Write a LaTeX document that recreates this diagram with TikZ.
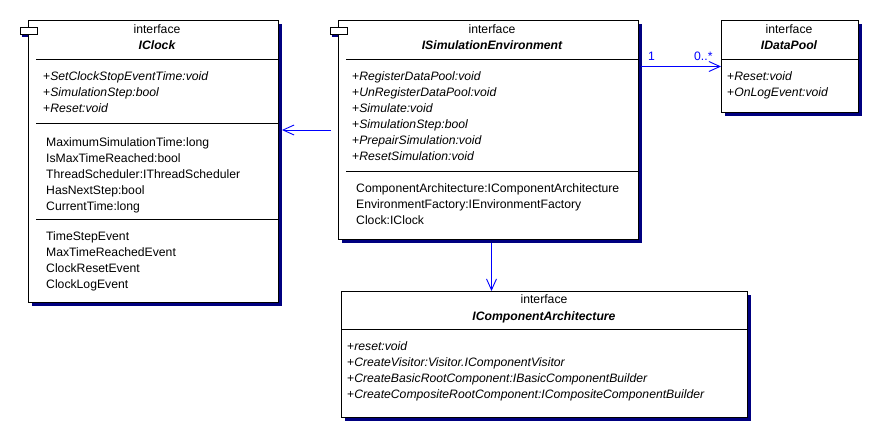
\documentclass[tikz,border=0pt]{standalone}
\usepackage{fontspec}
\setmainfont{Liberation Sans}
\usetikzlibrary{arrows.meta, shadows}
\definecolor{umlShadow}{RGB}{0,0,128}
\definecolor{umlBlue}{RGB}{0,0,255}
\tikzstyle{classbox} = [draw, fill=white, line width=1pt, anchor=north west, inner sep=0, drop shadow={shadow xshift=3pt, shadow yshift=-3pt, fill=umlShadow, opacity=1}]
\tikzstyle{iconTab} = [draw, fill=white, line width=1pt, anchor=north west, inner sep=0, minimum width=17pt, minimum height=7pt]
\tikzstyle{stereo} = [anchor=base, inner sep=0]
\tikzstyle{className} = [anchor=base, inner sep=0, font=\fontsize{12.2}{14}\selectfont\bfseries\itshape]
\tikzstyle{member} = [anchor=base west, inner sep=0]
\tikzstyle{divider} = [line width=1pt]
\tikzstyle{assoc} = [->, umlBlue, line width=0.9pt, >={Straight Barb[length=11pt, width=10pt]}]
\tikzstyle{mult} = [anchor=base west, inner sep=0, text=umlBlue]

\begin{document}
\begin{tikzpicture}[x=1pt, y=-1pt, font=\fontsize{12.2}{14}\selectfont]
        \useasboundingbox (0,0) rectangle (871,431);

        % IClock
        \node [classbox, minimum width=250pt, minimum height=282pt] (clock) at (28,20) {};
        \fill [umlShadow] (22,34) rectangle (28,37);
        \node [iconTab] (clockTab) at (20,27) {};
        \node [stereo] (clockStereo) at (157,34) {interface};
        \node [className] (clockName) at (157,49) {IClock};
        \draw [divider] (36,59) -- (278,59);
        \foreach \m [count=\i] in {SetClockStopEventTime:void, SimulationStep:bool, Reset:void}
            \node [member] (clockOp\i) at (43,64+16*\i) {+\textit{\m}};
        \draw [divider] (36,123) -- (278,123);
        \foreach \a [count=\i] in {MaximumSimulationTime:long, IsMaxTimeReached:bool, ThreadScheduler:IThreadScheduler, HasNextStep:bool, CurrentTime:long}
            \node [member] (clockAttr\i) at (46,130+16*\i) {\a};
        \draw [divider] (36,219) -- (278,219);
        \foreach \e [count=\i] in {TimeStepEvent, MaxTimeReachedEvent, ClockResetEvent, ClockLogEvent}
            \node [member] (clockEvent\i) at (46,224+16*\i) {\e};

        % ISimulationEnvironment
        \node [classbox, minimum width=300pt, minimum height=219pt] (env) at (338,20) {};
        \fill [umlShadow] (332,34) rectangle (338,37);
        \node [iconTab] (envTab) at (330,27) {};
        \node [stereo] (envStereo) at (492,34) {interface};
        \node [className] (envName) at (492,49) {ISimulationEnvironment};
        \draw [divider] (346,59) -- (638,59);
        \foreach \m [count=\i] in {RegisterDataPool:void, UnRegisterDataPool:void, Simulate:void, SimulationStep:bool, PrepairSimulation:void, ResetSimulation:void}
            \node [member] (envOp\i) at (352,64+16*\i) {+\textit{\m}};
        \draw [divider] (346,171) -- (638,171);
        \foreach \a [count=\i] in {ComponentArchitecture:IComponentArchitecture, EnvironmentFactory:IEnvironmentFactory, Clock:IClock}
            \node [member] (envAttr\i) at (356,176+16*\i) {\a};

        % IDataPool
        \node [classbox, minimum width=137pt, minimum height=92pt] (pool) at (721,20) {};
        \node [stereo] (poolStereo) at (789,34) {interface};
        \node [className] (poolName) at (789,49) {IDataPool};
        \draw [divider] (721,59) -- (858,59);
        \foreach \m [count=\i] in {Reset:void, OnLogEvent:void}
            \node [member] (poolOp\i) at (727,64+16*\i) {+\textit{\m}};

        % IComponentArchitecture
        \node [classbox, minimum width=406pt, minimum height=126pt] (arch) at (341,291) {};
        \node [stereo] (archStereo) at (544,303) {interface};
        \node [className] (archName) at (544,320) {IComponentArchitecture};
        \draw [divider] (341,329) -- (747,329);
        \foreach \m [count=\i] in {reset:void, CreateVisitor:Visitor.IComponentVisitor, CreateBasicRootComponent:IBasicComponentBuilder, CreateCompositeRootComponent:ICompositeComponentBuilder}
            \node [member] (archOp\i) at (347,334+16*\i) {+\textit{\m}};

        % associations
        \draw [assoc] ([xshift=2pt]env.east |- pool.west) -- (pool.west);
        \node [mult] (poolMultSrc) at (648,60) {1};
        \node [mult] (poolMultDst) at (694,60) {0..*};
        \draw [assoc, shorten <=7pt] (env.west) -- ([xshift=3pt]clock.east |- env.west);
        \draw [assoc] ([xshift=3pt, yshift=-3pt]env.south) -- ([xshift=3pt]env.south |- arch.north);
    \end{tikzpicture}
\end{document}
